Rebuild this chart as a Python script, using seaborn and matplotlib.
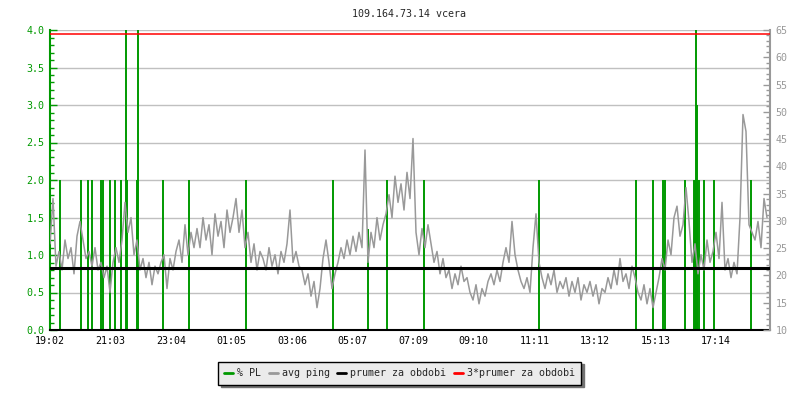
"""Ping chart for 109.164.73.14 over the last day (packet loss and average ping)."""

import matplotlib as mpl

mpl.use("Agg")

import matplotlib.pyplot as plt
import numpy as np
import pandas as pd
import seaborn as sns
from matplotlib.lines import Line2D
from matplotlib.ticker import MultipleLocator

TITLE = "109.164.73.14 vcera"

# average ping [ms], one sample every 6 minutes starting 19:02
avg_ping = [
    25.8, 34.1, 21.7, 24.4, 21.0, 26.5, 23.1, 25.1, 20.3, 27.2,
    29.9, 26.5, 23.1, 24.4, 21.7, 25.1, 21.0,
    22.4, 19.6, 21.7, 16.9, 22.4,
    25.1, 22.4, 26.5,
    33.4, 27.9,
    30.6, 23.8, 26.5,
    21.0, 23.1, 19.6, 22.4, 18.3, 21.7, 20.3,
    22.4, 23.8, 17.6, 23.1, 21.0, 24.4,
    26.5, 22.4, 29.3, 23.8, 27.9, 25.1,
    28.6, 25.1, 30.6, 26.5, 29.3, 23.8, 31.3, 27.2, 29.9, 25.1, 32.0, 27.9, 30.6,
    34.1, 27.9, 32.0,
    25.1, 27.9, 22.4, 25.8, 21.0, 24.4,
    23.1, 21.0, 25.1, 21.7, 23.8, 20.3, 24.4, 22.4, 25.8,
    32.0, 22.4, 24.4, 21.7,
    21.0, 18.3, 20.3, 16.2, 18.9, 14.1, 17.6,
    23.1, 26.5, 22.4,
    17.6, 20.3,
    22.4, 25.1, 23.1, 26.5, 23.8, 27.2, 24.4, 27.9, 25.1,
    43.0, 22.4,
    27.9, 25.1, 30.6, 26.5, 29.3,
    31.3, 34.8, 30.6, 38.2, 33.4, 36.8, 32.0, 38.9, 34.1, 45.1,
    27.9, 23.8,
    28.6, 25.1, 29.3, 25.8,
    22.4, 24.4, 20.3, 23.1,
    19.6, 21.0, 17.6, 20.3, 18.3, 21.7, 18.9, 19.6,
    16.9, 15.5, 18.3, 14.8, 17.6, 16.2, 18.9,
    20.3, 18.3, 21.0, 18.9, 22.4,
    25.1, 22.4, 29.9, 23.8, 21.0,
    18.9, 17.6, 19.6, 16.9,
    25.1, 31.3, 22.4,
    19.6, 17.6, 20.3, 18.3, 21.0, 16.9, 18.9,
    17.6, 19.6, 16.2, 18.9, 16.9, 19.6, 15.5, 18.3, 16.9, 18.9,
    16.2, 18.3, 14.8, 17.6, 16.9,
    19.6, 17.6, 21.0, 18.3, 23.1, 18.9, 20.3, 17.6, 21.7, 19.6,
    16.9, 15.5, 18.3, 14.8, 17.6, 14.1, 16.9,
    19.6, 23.1, 21.0,
    26.5, 23.8, 30.6, 32.7, 27.2,
    29.3, 36.1, 29.9,
    22.4, 25.8, 20.3,
    23.8, 21.0, 26.5, 22.4, 24.4,
    27.9, 23.1, 33.4,
    21.0, 23.1, 19.6, 22.4, 20.3,
    30.6, 49.5, 46.4, 29.3, 27.9, 26.5, 29.9, 25.1, 34.1, 30.6,
]
sample_step_min = 6

# packet loss events: minute after 19:02 and loss in %
pl_minutes = [19, 61, 75, 84, 101, 105, 119, 130, 141, 151, 153, 173, 175,
              225, 278, 391, 565, 635, 673, 747, 977, 1171, 1205, 1225, 1229,
              1269, 1287, 1289, 1291, 1293, 1294, 1298, 1307, 1327, 1401, 1439]
pl_values = [2.0, 2.0, 2.0, 2.0, 2.0, 2.0, 2.0, 2.0, 2.0, 4.0, 2.0, 2.0, 4.0,
             2.0, 2.0, 2.0, 2.0, 1.35, 2.0, 2.0, 2.0, 2.0, 2.0, 2.0, 2.0,
             2.0, 2.0, 2.0, 4.0, 3.0, 2.0, 2.0, 2.0, 2.0, 2.0, 2.0]

prumer = 21.42  # mean ping over the period [ms]

tick_labels = ["19:02", "21:03", "23:04", "01:05", "03:06", "05:07",
               "07:09", "09:10", "11:11", "13:12", "15:13", "17:14"]
tick_step_min = 121.1
period_min = 1440

GREEN = "#009900"
GRAY = "#999999"
GRID = "#c0c0c0"
FONT = "DejaVu Sans Mono"


def main():
    sns.set_style("white")
    plt.rcParams["font.family"] = [FONT]
    plt.rcParams["font.size"] = 7.2

    ping = pd.DataFrame({
        "minute": np.arange(len(avg_ping)) * sample_step_min,
        "ping": avg_ping,
    })

    fig = plt.figure(figsize=(8, 4), dpi=100)
    ax = fig.add_axes([0.0625, 0.175, 0.9, 0.75])
    ax2 = ax.twinx()

    # left axis: packet loss
    ax.set_xlim(0, period_min)
    ax.set_ylim(0, 4.0)
    ax.yaxis.set_major_locator(MultipleLocator(0.5))
    ax.yaxis.set_minor_locator(MultipleLocator(0.1))
    ax.set_yticklabels([f"{v:.1f}" for v in ax.get_yticks()])
    for y in np.arange(0.5, 4.01, 0.5):
        ax.axhline(y, color=GRID, lw=1.0, zorder=0)
    ax.vlines(pl_minutes, 0, pl_values, color=GREEN, lw=1.4, zorder=2)

    # right axis: ping
    ax2.set_ylim(10, 65)
    ax2.yaxis.set_major_locator(MultipleLocator(5))
    ax2.yaxis.set_minor_locator(MultipleLocator(1))
    sns.lineplot(data=ping, x="minute", y="ping", ax=ax2, color=GRAY, lw=1.1, zorder=3)
    ax2.axhline(prumer, color="black", lw=2.2, zorder=4)
    ax2.axhline(3 * prumer, color="red", lw=1.1, zorder=4)
    ax2.set_xlabel("")
    ax2.set_ylabel("")

    ax.set_zorder(ax2.get_zorder() - 1)
    ax2.patch.set_visible(False)

    ax.set_xticks(np.arange(len(tick_labels)) * tick_step_min)
    ax.set_xticklabels(tick_labels)

    ax.tick_params(axis="y", which="both", direction="in", colors=GREEN, labelcolor=GREEN, pad=4)
    ax.tick_params(axis="y", which="major", length=5, width=1)
    ax.tick_params(axis="y", which="minor", length=3, width=1)
    ax.tick_params(axis="x", direction="in", length=4, width=1, colors="black", pad=4)
    ax2.tick_params(axis="y", which="both", direction="in", colors=GRAY, labelcolor=GRAY, pad=4)
    ax2.tick_params(axis="y", which="major", length=5, width=1)
    ax2.tick_params(axis="y", which="minor", length=3, width=1)

    for a in (ax, ax2):
        a.spines["top"].set_visible(False)
    ax.spines["left"].set_color(GREEN)
    ax.spines["left"].set_linewidth(1.5)
    ax.spines["bottom"].set_color("black")
    ax.spines["bottom"].set_linewidth(1.5)
    ax.spines["right"].set_visible(False)
    ax2.spines["left"].set_visible(False)
    ax2.spines["bottom"].set_visible(False)
    ax2.spines["right"].set_color(GRAY)
    ax2.spines["right"].set_linewidth(1.5)

    fig.text(0.511, 0.965, TITLE, ha="center", va="center", fontsize=7.2)

    handles = [
        Line2D([], [], color=GREEN, lw=2),
        Line2D([], [], color=GRAY, lw=2),
        Line2D([], [], color="black", lw=2),
        Line2D([], [], color="red", lw=2),
    ]
    labels = ["% PL", "avg ping", "prumer za obdobi", "3*prumer za obdobi"]
    leg = fig.legend(
        handles, labels, loc="center", bbox_to_anchor=(0.4995, 0.0675),
        ncol=4, frameon=True, fancybox=False, handlelength=0.9, handletextpad=0.4,
        columnspacing=0.75, borderpad=0.65, fontsize=7.2,
        shadow={"color": "0.45", "alpha": 1.0},
    )
    leg.get_frame().set_facecolor("#ebebeb")
    leg.get_frame().set_edgecolor("black")
    leg.get_frame().set_linewidth(1.0)
    leg.get_frame().set_alpha(1.0)

    fig.savefig("out.png", dpi=100)
    plt.close(fig)


if __name__ == "__main__":
    main()
